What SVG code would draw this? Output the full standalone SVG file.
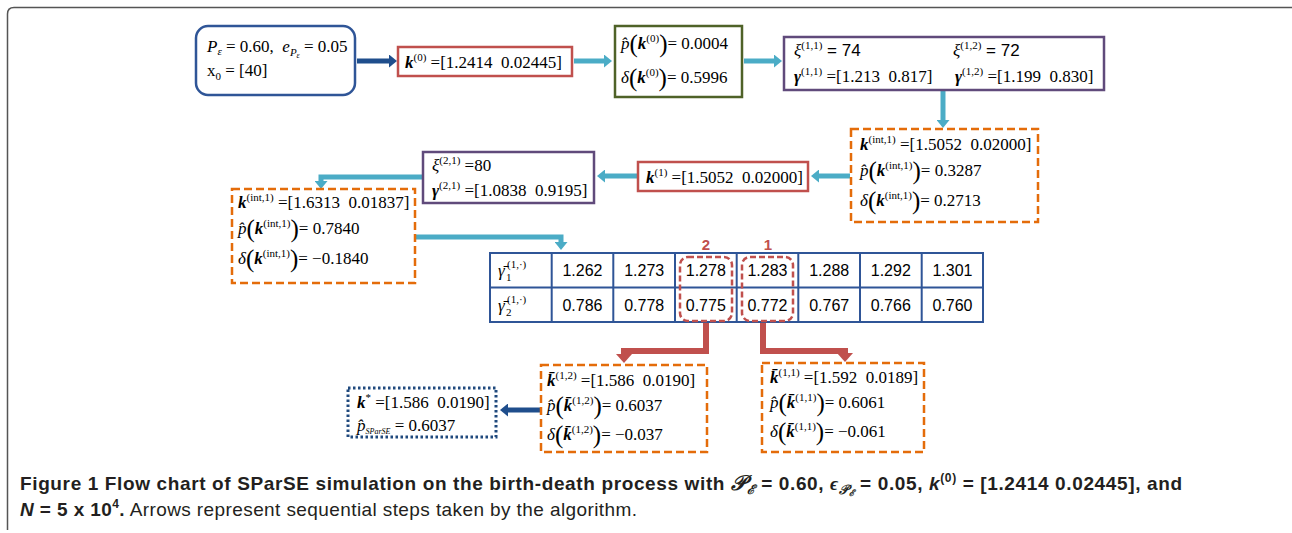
<svg xmlns="http://www.w3.org/2000/svg" width="1292" height="533" viewBox="0 0 1292 533">
<defs>
<style>
.m{font-family:"Liberation Serif",serif;font-size:17px;fill:#000;white-space:pre}
.bi{font-weight:bold;font-style:italic}
.i{font-style:italic}
.s{font-size:11px}
.ss{font-size:8px}
.bp{font-size:25px}
.sans{font-family:"Liberation Sans",sans-serif}
.tv{font-family:"Liberation Sans",sans-serif;font-size:16px;text-anchor:middle;fill:#000}
.cap{font-family:"Liberation Sans",sans-serif;font-size:19px;fill:#231f20;white-space:pre}
.cyan{fill:none;stroke:#4BACC6;stroke-width:5}
.navy{fill:none;stroke:#1F4E8C;stroke-width:5}
.red{fill:none;stroke:#C0504D;stroke-width:6}
.orange{fill:#fff;stroke:#E46C0A;stroke-width:2.5;stroke-dasharray:8 4}
.redbox{fill:#fff;stroke:#C0504D;stroke-width:2.5}
.purple{fill:#fff;stroke:#604A7B;stroke-width:2.5}
</style>
<marker id="hc" markerUnits="userSpaceOnUse" markerWidth="9" markerHeight="13" refX="1" refY="6.5" orient="auto"><path d="M0,0 L8,6.5 L0,13 z" fill="#4BACC6"/></marker>
<marker id="hn" markerUnits="userSpaceOnUse" markerWidth="9" markerHeight="13" refX="1" refY="6.5" orient="auto"><path d="M0,0 L8,6.5 L0,13 z" fill="#1F4E8C"/></marker>
<marker id="hr" markerUnits="userSpaceOnUse" markerWidth="10" markerHeight="16" refX="1" refY="8" orient="auto"><path d="M0,0 L9,8 L0,16 z" fill="#C0504D"/></marker>
</defs>

<path d="M7.5,530 L7.5,14 Q7.5,7.5 14,7.5 L1292,7.5" fill="none" stroke="#555" stroke-width="1.5"/>

<g id="connectors">
<path class="navy" d="M357,61 H390" marker-end="url(#hn)"/>
<path class="cyan" d="M574,61 H605" marker-end="url(#hc)"/>
<path class="cyan" d="M744,61 H775" marker-end="url(#hc)"/>
<path class="cyan" d="M943,90 V121" marker-end="url(#hc)"/>
<path class="cyan" d="M850,176 H818" marker-end="url(#hc)"/>
<path class="cyan" d="M637,176 H604" marker-end="url(#hc)"/>
<path class="cyan" d="M423,177 H321 V182" marker-end="url(#hc)"/>
<path class="cyan" d="M415,237 H561 V243" marker-end="url(#hc)"/>
<path class="red" d="M706,321 V351 H624 V355" marker-end="url(#hr)"/>
<path class="red" d="M763,321 V351 H845 V354" marker-end="url(#hr)"/>
<path class="navy" d="M540,410 H507" marker-end="url(#hn)"/>
</g>

<g id="n-input">
<rect x="196" y="26" width="159" height="69" rx="12" fill="#fff" stroke="#2F5597" stroke-width="2.5"/>
<text class="m" x="207" y="52"><tspan class="i">P</tspan><tspan class="s i" dy="3">ε</tspan><tspan dy="-3"> = 0.60,  </tspan><tspan class="i">e</tspan><tspan class="s i" dy="4">P</tspan><tspan class="ss i" dy="2">ε</tspan><tspan dy="-6"> = 0.05</tspan></text>
<text class="m" x="207" y="76">x<tspan class="s" dy="4">0</tspan><tspan dy="-4"> = [40]</tspan></text>
</g>

<g id="n-k0">
<rect class="redbox" x="398" y="47" width="174" height="29"/>
<text class="m" x="405" y="68"><tspan class="bi">k</tspan><tspan class="s" dy="-7">(0)</tspan><tspan dy="7"> =[1.2414  0.02445]</tspan></text>
</g>

<g id="n-p0">
<rect x="615" y="26" width="127" height="71" fill="#fff" stroke="#4F6228" stroke-width="2.5"/>
<text class="m" x="621" y="49"><tspan class="i">p̂</tspan><tspan class="bp" dy="3">(</tspan><tspan class="bi" dy="-3">k</tspan><tspan class="s" dy="-7">(0)</tspan><tspan class="bp" dy="10">)</tspan><tspan dy="-3">= 0.0004</tspan></text>
<text class="m" x="621" y="83"><tspan class="i">δ</tspan><tspan class="bp" dy="3">(</tspan><tspan class="bi" dy="-3">k</tspan><tspan class="s" dy="-7">(0)</tspan><tspan class="bp" dy="10">)</tspan><tspan dy="-3">= 0.5996</tspan></text>
</g>

<g id="n-xi1">
<rect class="purple" x="784" y="37" width="320" height="53"/>
<text class="m" x="794" y="56"><tspan class="i">ξ</tspan><tspan class="s" dy="-7">(1,1)</tspan><tspan class="sans" dy="7"> = 74</tspan></text>
<text class="m" x="953" y="56"><tspan class="i">ξ</tspan><tspan class="s" dy="-7">(1,2)</tspan><tspan class="sans" dy="7"> = 72</tspan></text>
<text class="m" x="794" y="82"><tspan class="bi">γ</tspan><tspan class="s" dy="-7">(1,1)</tspan><tspan dy="7"> =[1.213  0.817]</tspan></text>
<text class="m" x="955" y="82"><tspan class="bi">γ</tspan><tspan class="s" dy="-7">(1,2)</tspan><tspan dy="7"> =[1.199  0.830]</tspan></text>
</g>

<g id="n-kint1">
<rect class="orange" x="851" y="129" width="187" height="93"/>
<text class="m" x="860" y="150"><tspan class="bi">k</tspan><tspan class="s" dy="-7">(int,1)</tspan><tspan dy="7"> =[1.5052  0.02000]</tspan></text>
<text class="m" x="860" y="176"><tspan class="i">p̂</tspan><tspan class="bp" dy="3">(</tspan><tspan class="bi" dy="-3">k</tspan><tspan class="s" dy="-7">(int,1)</tspan><tspan class="bp" dy="10">)</tspan><tspan dy="-3">= 0.3287</tspan></text>
<text class="m" x="860" y="206"><tspan class="i">δ</tspan><tspan class="bp" dy="3">(</tspan><tspan class="bi" dy="-3">k</tspan><tspan class="s" dy="-7">(int,1)</tspan><tspan class="bp" dy="10">)</tspan><tspan dy="-3">= 0.2713</tspan></text>
</g>

<g id="n-k1">
<rect class="redbox" x="638" y="162" width="170" height="29"/>
<text class="m" x="646" y="183"><tspan class="bi">k</tspan><tspan class="s" dy="-7">(1)</tspan><tspan dy="7"> =[1.5052  0.02000]</tspan></text>
</g>

<g id="n-xi2">
<rect class="purple" x="423" y="152" width="171" height="51"/>
<text class="m" x="432" y="171"><tspan class="i">ξ</tspan><tspan class="s" dy="-7">(2,1)</tspan><tspan dy="7"> =80</tspan></text>
<text class="m" x="432" y="196"><tspan class="bi">γ</tspan><tspan class="s" dy="-7">(2,1)</tspan><tspan dy="7"> =[1.0838  0.9195]</tspan></text>
</g>

<g id="n-kint2">
<rect class="orange" x="232" y="189" width="183" height="94"/>
<text class="m" x="238" y="208"><tspan class="bi">k</tspan><tspan class="s" dy="-7">(int,1)</tspan><tspan dy="7"> =[1.6313  0.01837]</tspan></text>
<text class="m" x="238" y="234"><tspan class="i">p̂</tspan><tspan class="bp" dy="3">(</tspan><tspan class="bi" dy="-3">k</tspan><tspan class="s" dy="-7">(int,1)</tspan><tspan class="bp" dy="10">)</tspan><tspan dy="-3">= 0.7840</tspan></text>
<text class="m" x="238" y="264"><tspan class="i">δ</tspan><tspan class="bp" dy="3">(</tspan><tspan class="bi" dy="-3">k</tspan><tspan class="s" dy="-7">(int,1)</tspan><tspan class="bp" dy="10">)</tspan><tspan dy="-3">= −0.1840</tspan></text>
</g>

<g id="n-table">
<rect x="490" y="253" width="493" height="69" fill="#fff" stroke="#2F5597" stroke-width="2"/>
<path d="M490,287.5 H983 M551.7,253 V322 M613.3,253 V322 M675,253 V322 M736.7,253 V322 M798.3,253 V322 M860,253 V322 M921.7,253 V322" stroke="#2F5597" stroke-width="2" fill="none"/>
<text class="m" x="498" y="276"><tspan class="i">γ̄</tspan><tspan class="s" x="506" dy="5">1</tspan><tspan class="s" x="507" dy="-13">(1,·)</tspan></text>
<text class="m" x="498" y="311"><tspan class="i">γ̄</tspan><tspan class="s" x="506" dy="5">2</tspan><tspan class="s" x="507" dy="-13">(1,·)</tspan></text>
<text class="tv" x="582.5" y="276">1.262</text>
<text class="tv" x="644.2" y="276">1.273</text>
<text class="tv" x="705.8" y="276">1.278</text>
<text class="tv" x="767.5" y="276">1.283</text>
<text class="tv" x="829.2" y="276">1.288</text>
<text class="tv" x="890.8" y="276">1.292</text>
<text class="tv" x="952.5" y="276">1.301</text>
<text class="tv" x="582.5" y="311">0.786</text>
<text class="tv" x="644.2" y="311">0.778</text>
<text class="tv" x="705.8" y="311">0.775</text>
<text class="tv" x="767.5" y="311">0.772</text>
<text class="tv" x="829.2" y="311">0.767</text>
<text class="tv" x="890.8" y="311">0.766</text>
<text class="tv" x="952.5" y="311">0.760</text>
<rect x="680" y="257" width="52" height="64" rx="8" fill="none" stroke="#C0504D" stroke-width="2.5" stroke-dasharray="6 3"/>
<rect x="742" y="257" width="51" height="64" rx="8" fill="none" stroke="#C0504D" stroke-width="2.5" stroke-dasharray="6 3"/>
<text x="706" y="250" font-family="Liberation Sans, sans-serif" font-size="15" font-weight="bold" fill="#C0504D" text-anchor="middle">2</text>
<text x="768" y="250" font-family="Liberation Sans, sans-serif" font-size="15" font-weight="bold" fill="#C0504D" text-anchor="middle">1</text>
</g>

<g id="n-kbar12">
<rect class="orange" x="541" y="365" width="166" height="87"/>
<text class="m" x="547" y="386"><tspan class="bi">k̄</tspan><tspan class="s" dy="-7">(1,2)</tspan><tspan dy="7"> =[1.586  0.0190]</tspan></text>
<text class="m" x="547" y="411"><tspan class="i">p̂</tspan><tspan class="bp" dy="3">(</tspan><tspan class="bi" dy="-3">k̄</tspan><tspan class="s" dy="-7">(1,2)</tspan><tspan class="bp" dy="10">)</tspan><tspan dy="-3">= 0.6037</tspan></text>
<text class="m" x="547" y="440"><tspan class="i">δ</tspan><tspan class="bp" dy="3">(</tspan><tspan class="bi" dy="-3">k̄</tspan><tspan class="s" dy="-7">(1,2)</tspan><tspan class="bp" dy="10">)</tspan><tspan dy="-3">= −0.037</tspan></text>
</g>

<g id="n-kbar11">
<rect class="orange" x="762" y="363" width="162" height="89"/>
<text class="m" x="770" y="383"><tspan class="bi">k̄</tspan><tspan class="s" dy="-7">(1,1)</tspan><tspan dy="7"> =[1.592  0.0189]</tspan></text>
<text class="m" x="770" y="408"><tspan class="i">p̂</tspan><tspan class="bp" dy="3">(</tspan><tspan class="bi" dy="-3">k̄</tspan><tspan class="s" dy="-7">(1,1)</tspan><tspan class="bp" dy="10">)</tspan><tspan dy="-3">= 0.6061</tspan></text>
<text class="m" x="770" y="437"><tspan class="i">δ</tspan><tspan class="bp" dy="3">(</tspan><tspan class="bi" dy="-3">k̄</tspan><tspan class="s" dy="-7">(1,1)</tspan><tspan class="bp" dy="10">)</tspan><tspan dy="-3">= −0.061</tspan></text>
</g>

<g id="n-result">
<rect x="348" y="388" width="148" height="49" fill="#fff" stroke="#1F497D" stroke-width="3" stroke-dasharray="2.5 2.5"/>
<text class="m" x="357" y="408"><tspan class="bi">k</tspan><tspan class="s" dy="-7">*</tspan><tspan dy="7"> =[1.586  0.0190]</tspan></text>
<text class="m" x="357" y="431"><tspan class="i">p̂</tspan><tspan class="ss i" dy="3">SParSE</tspan><tspan dy="-3"> = 0.6037</tspan></text>
</g>

<g id="caption">
<text class="cap" x="20" y="490" font-weight="bold" textLength="1162" lengthAdjust="spacing">Figure 1 Flow chart of SParSE simulation on the birth-death process with <tspan font-family="Liberation Serif, serif" font-style="italic" font-size="21">𝒫</tspan><tspan font-family="Liberation Serif, serif" font-style="italic" font-size="13" dy="4">ℰ</tspan><tspan dy="-4"> = 0.60, </tspan><tspan font-family="Liberation Serif, serif" font-style="italic">ϵ</tspan><tspan font-family="Liberation Serif, serif" font-style="italic" font-size="13" dy="4">𝒫</tspan><tspan font-family="Liberation Serif, serif" font-style="italic" font-size="9" dy="2">ℰ</tspan><tspan dy="-6"> = 0.05, </tspan><tspan font-style="italic">k</tspan><tspan font-size="12" dy="-8">(0)</tspan><tspan dy="8"> = [1.2414 0.02445], and</tspan></text>
<text class="cap" x="20" y="516" textLength="617" lengthAdjust="spacing"><tspan font-weight="bold" font-style="italic">N</tspan><tspan font-weight="bold"> = 5 x 10</tspan><tspan font-weight="bold" font-size="12" dy="-8">4</tspan><tspan font-weight="bold" dy="8">.</tspan> Arrows represent sequential steps taken by the algorithm.</text>
</g>
</svg>
